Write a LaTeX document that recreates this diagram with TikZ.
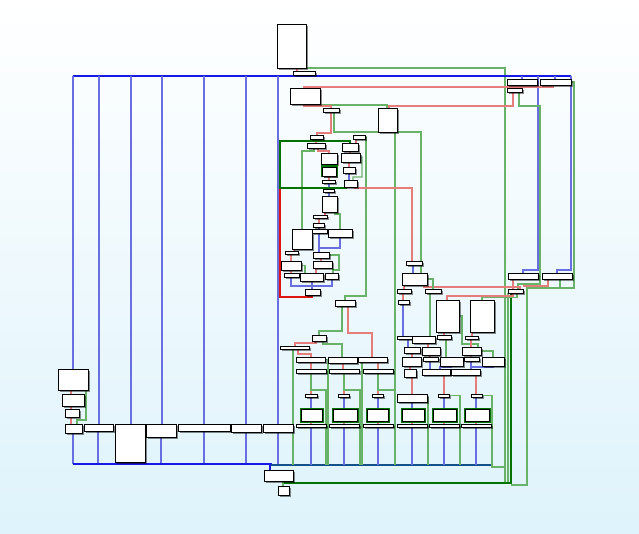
\documentclass[tikz,border=0pt]{standalone}
\usetikzlibrary{shadows}
\definecolor{bgb}{RGB}{222,243,251}
\definecolor{cb}{RGB}{105,110,225}
\definecolor{cbt}{RGB}{25,25,230}
\definecolor{cg}{RGB}{105,178,105}
\definecolor{cgt}{RGB}{0,115,0}
\definecolor{cr}{RGB}{230,125,125}
\definecolor{crt}{RGB}{225,20,20}
\definecolor{cmix}{RGB}{20,80,140}
\pgfdeclarelayer{bg}\pgfdeclarelayer{edges}\pgfsetlayers{bg,edges,main}
\tikzset{
 box/.style={draw=black, fill=white, line width=0.8pt, inner sep=0pt, outer sep=0pt,
   drop shadow={shadow xshift=2pt, shadow yshift=-2pt, fill=black, opacity=0.45}},
 gbox/.style={box, preaction={draw=cgt, line width=3pt}},
 eb/.style={draw=cb, line width=1.2pt},
 ebt/.style={draw=cbt, line width=2pt},
 eg/.style={draw=cg, line width=1.2pt},
 egt/.style={draw=cgt, line width=2pt},
 er/.style={draw=cr, line width=1.2pt},
 ert/.style={draw=crt, line width=2pt},
 emix/.style={draw=cmix, line width=2pt}
}
\newcommand\bx[6][]{\node[box,#1,anchor=north west,minimum width={(#4-#2)*1pt},minimum height={(#5-#3)*1pt}] (#6) at (#2,#3) {};}
\begin{document}
\begin{tikzpicture}[x=1pt,y=-1pt]
\useasboundingbox (0,0) rectangle (639,534);
\begin{pgfonlayer}{bg}
\shade[top color=white, bottom color=bgb] (0,0) rectangle (639,534);
\end{pgfonlayer}
% ---- nodes
\bx{277}{24}{306}{68}{A}
\bx{293}{71}{315}{75}{B}
\bx{290}{88}{320}{104}{I}
\bx{378}{108}{397}{132}{J}
\bx{323}{108}{339}{112}{K}
\bx{507}{79}{537}{85}{G1}
\bx{540}{79}{571}{85}{G2}
\bx{507}{88}{522}{92}{G3}
\bx{310}{135}{323}{139}{L}
\bx{353}{135}{365}{139}{M}
\bx{307}{143}{325}{148}{N}
\bx{342}{143}{358}{151}{O}
\bx{321}{153}{337}{164}{P}
\bx{341}{153}{360}{162}{Q}
\bx[gbox]{322}{167}{336}{176}{R}
\bx{343}{167}{355}{173}{S}
\bx{322}{180}{335}{183}{T}
\bx{344}{180}{357}{187}{U}
\bx{323}{189}{334}{192}{V}
\bx{322}{196}{337}{212}{W}
\bx{313}{215}{327}{218}{X}
\bx{313}{223}{324}{227}{Y}
\bx{292}{229}{312}{249}{Z}
\bx{312}{229}{327}{233}{AA}
\bx{328}{229}{352}{237}{AB}
\bx{285}{251}{298}{254}{AC}
\bx{313}{252}{329}{258}{AD}
\bx{281}{261}{301}{270}{AE}
\bx{313}{261}{332}{268}{AF}
\bx{284}{273}{299}{277}{AG}
\bx{300}{273}{323}{281}{AH}
\bx{325}{273}{338}{279}{AI}
\bx{305}{289}{320}{295}{AJ}
\bx{335}{300}{355}{306}{CZ}
\bx{312}{335}{326}{341}{CA}
\bx{280}{346}{309}{349}{CB}
\bx{296}{357}{325}{362}{CC}
\bx{328}{357}{357}{363}{CD}
\bx{358}{357}{387}{362}{CE}
\bx{296}{369}{326}{373}{CF}
\bx{329}{369}{359}{373}{CG}
\bx{363}{369}{393}{373}{CH}
\bx{305}{394}{317}{397}{s1}
\bx{338}{394}{349}{397}{s2}
\bx{372}{394}{383}{397}{s3}
\bx[gbox]{301}{409}{322}{421}{g1}
\bx[gbox]{333}{409}{357}{421}{g2}
\bx[gbox]{367}{409}{388}{421}{g3}
\bx{296}{424}{326}{427}{b1}
\bx{329}{424}{359}{427}{b2}
\bx{363}{424}{393}{427}{b3}
\bx{406}{261}{422}{265}{BA}
\bx{402}{273}{427}{285}{BB}
\bx{397}{289}{411}{293}{BC}
\bx{425}{289}{441}{293}{BD}
\bx{398}{300}{409}{304}{BE}
\bx{436}{300}{459}{332}{BF}
\bx{470}{300}{494}{332}{BG}
\bx{397}{336}{412}{339}{BI}
\bx{412}{336}{435}{343}{BJ}
\bx{437}{335}{451}{339}{BK}
\bx{465}{336}{478}{339}{BL}
\bx{404}{347}{420}{353}{BM}
\bx{422}{347}{440}{355}{BN}
\bx{462}{347}{481}{355}{BO}
\bx{402}{357}{421}{366}{BP}
\bx{423}{357}{438}{361}{BQ}
\bx{440}{357}{463}{366}{BR}
\bx{464}{357}{479}{361}{BS}
\bx{482}{357}{504}{366}{BT}
\bx{404}{369}{416}{377}{BU}
\bx{422}{369}{450}{375}{BV}
\bx{451}{369}{480}{375}{BW}
\bx{397}{394}{427}{402}{DA}
\bx{438}{394}{449}{397}{s5}
\bx{471}{394}{482}{397}{s6}
\bx[gbox]{402}{409}{424}{421}{g4}
\bx[gbox]{433}{409}{456}{421}{g5}
\bx[gbox]{465}{409}{489}{421}{g6}
\bx{397}{424}{427}{427}{b4}
\bx{429}{424}{459}{427}{b5}
\bx{461}{424}{491}{427}{b6}
\bx{508}{273}{538}{279}{H1}
\bx{542}{273}{572}{279}{H2}
\bx{508}{289}{523}{293}{H3}
\bx{58}{369}{88}{390}{C1}
\bx{62}{394}{84}{406}{C2}
\bx{65}{409}{79}{417}{C3}
\bx{65}{424}{82}{433}{D1}
\bx{84}{424}{113}{431}{D2}
\bx{115}{424}{145}{462}{D3}
\bx{146}{424}{176}{437}{D4}
\bx{178}{424}{230}{431}{D5}
\bx{231}{424}{261}{432}{D6}
\bx{263}{424}{293}{432}{D7}
\bx{264}{470}{293}{481}{E}
\bx{278}{486}{289}{495}{F}
% ---- edges
\begin{pgfonlayer}{edges}
\draw[er] (297,0|-A.south) -- (297,0|-B.north);
\draw[eg] (A.south east) -- (505,68) -- (505,483);
\draw[ebt] (304,0|-B.south) -- (304,76);
\draw[ebt] (73,76) -- (571,76);
\foreach \x/\n in {73/C1,99/D2,131/D3,162/D4,204/D5,246/D6,278/D7}
  \draw[eb] (\x,76) -- (\x,0|-\n.north);
\draw[eb] (522,76) -- (522,0|-G1.north);
\draw[eb] (555,76) -- (555,0|-G2.north);
\draw[eb] (538,76) -- (538,270) -- (523,270) -- (523,0|-H1.north);
\draw[eb] (571,76) -- (571,270) -- (557,270) -- (557,0|-H2.north);
\foreach \x/\n in {73/D1,98/D2,161/D4,204/D5,246/D6,278/D7}
  \draw[eb] (\x,0|-\n.south) -- (\x,464);
\draw[ebt] (73,464) -- (272,464);
\draw[ebt] (270,464) -- (270,0|-E.north);
\draw[emix] (271,465) -- (492,465);
% C chain
\draw[er] (71,0|-C1.south) -- (71,0|-C2.north);
\draw[er] (71,0|-C2.south) -- (71,0|-C3.north);
\draw[er] (71,0|-C3.south) -- (71,0|-D1.north);
\draw[eg] (86,0|-C1.south) -- (86,420) -- (77,420) -- (77,0|-D1.north);
% right side
\draw[er] (512,0|-G1.south) -- (512,0|-G3.north);
\draw[er] (553,0|-G2.south) -- (553,87) -- (304,87) -- (304,0|-I.north);
\draw[eg] (304,0|-I.south) -- (304,105) -- (387,105) -- (387,0|-J.north);
\draw[er] (304,0|-I.south) -- (304,106) -- (331,106) -- (331,0|-K.north);
\draw[er] (513,0|-G3.south) -- (513,106) -- (389,106) -- (389,0|-J.north);
\draw[eg] (519,0|-G3.south) -- (519,106) -- (540,106) -- (540,284) -- (518,284) -- (518,0|-H3.north);
\draw[er] (513,0|-H1.south) -- (513,0|-H3.north);
\draw[eg] (G2.east) -- (574,82) -- (574,288) -- (527,288) -- (527,485) -- (511,485);
\draw[eg] (560,0|-H2.south) -- (560,288);
\draw[er] (548,0|-H2.south) -- (548,286) -- (523,286);
\draw[eg] (508,0|-H3.south) -- (508,483);
\draw[egt] (511,0|-H3.south) -- (511,483) -- (283,483) -- (283,0|-F.north);
\draw[eg] (283,0|-E.south) -- (283,0|-F.north);
% K / J
\draw[er] (331,0|-K.south) -- (331,133) -- (317,133) -- (317,0|-L.north);
\draw[eg] (334,0|-K.south) -- (334,132) -- (421,132) -- (421,0|-BB.north);
\draw[eg] (395,0|-J.south) -- (395,465);
% loop area
\draw[er] (316,0|-L.south) -- (316,0|-N.north);
\draw[er] (356,0|-M.south) -- (356,0|-O.north);
\draw[eg] (M.east) -- (366,137) -- (366,296) -- (345,296) -- (345,0|-CZ.north);
\draw[er] (318,0|-N.south) -- (318,151) -- (329,151) -- (329,0|-P.north);
\draw[eg] (314,0|-N.south) -- (314,151) -- (302,151) -- (302,0|-Z.north);
\draw[er] (350,0|-O.south) -- (350,0|-Q.north);
\draw[er] (329,0|-P.south) -- (329,0|-R.north);
\draw[er] (349,0|-Q.south) -- (349,0|-S.north);
\draw[eg] (Q.east) -- (362,157) -- (362,177) -- (353,177) -- (353,0|-U.north);
\draw[er] (329,0|-R.south) -- (329,0|-T.north);
\draw[eb] (349,0|-S.south) -- (349,0|-U.north);
\draw[eb] (329,0|-T.south) -- (329,0|-V.north);
\draw[eb] (329,0|-V.south) -- (329,0|-W.north);
\draw[er] (355,0|-U.south) -- (355,188) -- (412,188) -- (412,0|-BA.north);
\draw[ert] (312,0|-AJ.south) -- (312,297) -- (280,297) -- (280,141);
\draw[egt] (346,0|-U.south) -- (346,188) -- (280,188) -- (280,141) -- (350,141) -- (350,0|-O.north);
\draw[er] (325,0|-W.south) -- (325,0|-X.north);
\draw[eg] (335,0|-W.south) -- (335,214) -- (340,214) -- (340,0|-AB.north);
\draw[er] (319,0|-X.south) -- (319,0|-Y.north);
\draw[eb] (319,0|-Y.south) -- (319,0|-AA.north);
\draw[eb] (319,0|-AA.south) -- (319,0|-AD.north);
\draw[eb] (340,0|-AB.south) -- (340,248) -- (319,248);
\draw[er] (294,0|-Z.south) -- (294,0|-AC.north);
\draw[er] (291,0|-AC.south) -- (291,0|-AE.north);
\draw[er] (321,0|-AD.south) -- (321,0|-AF.north);
\draw[eg] (AD.east) -- (339,255) -- (339,270) -- (333,270) -- (333,0|-AI.north);
\draw[er] (291,0|-AE.south) -- (291,0|-AG.north);
\draw[eg] (AE.east) -- (305,265.5) -- (305,0|-AH.north);
\draw[er] (316,0|-AF.south) -- (316,0|-AH.north);
\draw[eb] (291,0|-AG.south) -- (291,286) -- (312,286) -- (312,0|-AJ.north);
\draw[eb] (312,0|-AH.south) -- (312,0|-AJ.north);
\draw[eb] (332,0|-AI.south) -- (332,286) -- (312,286);
% lower left block
\draw[eg] (342,0|-CZ.south) -- (342,331) -- (319,331) -- (319,0|-CA.north);
\draw[er] (348,0|-CZ.south) -- (348,333) -- (372,333) -- (372,0|-CE.north);
\draw[er] (316,0|-CA.south) -- (316,343) -- (295,343) -- (295,0|-CB.north);
\draw[eg] (323,0|-CA.south) -- (323,344) -- (342,344) -- (342,0|-CD.north);
\draw[er] (298,0|-CB.south) -- (298,354) -- (311,354) -- (311,0|-CC.north);
\draw[eg] (293,0|-CB.south) -- (293,465);
\draw[er] (311,0|-CC.south) -- (311,0|-CF.north);
\draw[er] (343,0|-CD.south) -- (343,0|-CG.north);
\draw[er] (378,0|-CE.south) -- (378,0|-CH.north);
\draw[eg] (CC.east) -- (328,359.5) -- (328,465);
\draw[eg] (CD.east) -- (362,360) -- (362,465);
\foreach \c/\s/\g/\b/\x/\gx in {CF/s1/g1/b1/311/326,CG/s2/g2/b2/344/360,CH/s3/g3/b3/378/395}{
  \draw[er] (\x,0|-\c.south) -- (\x,0|-\s.north);
  \draw[eg] (\x,0|-\c.south) -- (\x,390) -- (\gx,390) -- (\gx,465);
  \draw[eb] (\x,0|-\s.south) -- (\x,0|-\g.north);
  \draw[er] (\x,0|-\g.south) -- (\x,0|-\b.north);
  \draw[eb] (\x,0|-\b.south) -- (\x,465);
}
% middle right block
\draw[eb] (413,0|-BA.south) -- (413,0|-BB.north);
\draw[er] (404,0|-BB.south) -- (404,0|-BC.north);
\draw[er] (424,0|-BB.south) -- (424,287) -- (520,287) -- (520,0|-H3.north);
\draw[eg] (BB.east) -| (433,0|-BD.north);
\draw[er] (403,0|-BC.south) -- (403,0|-BE.north);
\draw[eb] (403,0|-BE.south) -- (403,0|-BI.north);
\draw[eg] (430,0|-BD.south) -- (430,0|-BJ.north);
\draw[er] (513,0|-H3.south) -- (513,296) -- (447,296) -- (447,0|-BF.north);
\draw[eg] (517,0|-H3.south) -- (517,297.5) -- (482,297.5) -- (482,0|-BG.north);
\draw[er] (444,0|-BF.south) -- (444,0|-BK.north);
\draw[er] (472,0|-BG.south) -- (472,0|-BL.north);
\draw[eg] (BF.east) -- (462,316) -- (462,344) -- (478,344) -- (478,0|-BO.north);
\draw[eb] (408,0|-BI.south) -- (408,0|-BM.north);
\draw[er] (428,0|-BJ.south) -- (428,0|-BN.north);
\draw[eg] (446,0|-BK.south) -- (446,0|-BR.north);
\draw[er] (471,0|-BL.south) -- (471,0|-BO.north);
\draw[er] (412,0|-BM.south) -- (412,0|-BP.north);
\draw[er] (430,0|-BN.south) -- (430,0|-BQ.north);
\draw[er] (471,0|-BO.south) -- (471,0|-BS.north);
\draw[eg] (BO.east) -| (493,0|-BT.north);
\draw[er] (410,0|-BP.south) -- (410,0|-BU.north);
\draw[eb] (430,0|-BQ.south) -- (430,0|-BV.north);
\draw[eb] (451,0|-BR.south) -- (451,367) -- (440,367) -- (440,0|-BV.north);
\draw[eb] (471,0|-BS.south) -- (471,0|-BW.north);
\draw[eb] (493,0|-BT.south) -- (493,367) -- (471,367);
\draw[er] (412,0|-BU.south) -- (412,0|-DA.north);
\draw[er] (444,0|-BV.south) -- (444,0|-s5.north);
\draw[er] (476,0|-BW.south) -- (476,0|-s6.north);
\draw[eg] (DA.east) -- (428,398) -- (428,465);
\draw[eg] (s5.east) -- (460,395.5) -- (460,465);
\draw[eg] (s6.east) -- (492,395.5) -- (492,467) -- (505,467);
\foreach \s/\g/\b/\x in {DA/g4/b4/412,s5/g5/b5/444,s6/g6/b6/476}{
  \draw[eb] (\x,0|-\s.south) -- (\x,0|-\g.north);
  \draw[er] (\x,0|-\g.south) -- (\x,0|-\b.north);
  \draw[eb] (\x,0|-\b.south) -- (\x,465);
}
\end{pgfonlayer}
\end{tikzpicture}
\end{document}
